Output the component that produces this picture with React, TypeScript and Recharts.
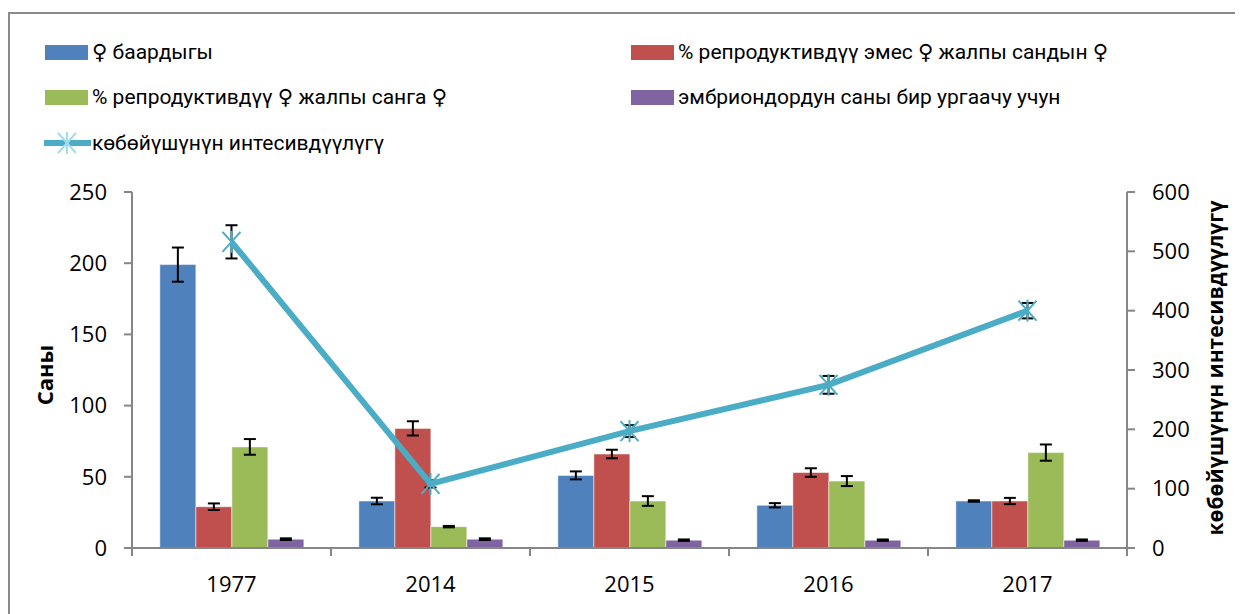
import React from 'react';
import { ComposedChart, Bar, Line, XAxis, YAxis, ErrorBar } from 'recharts';

const categories = ['1977', '2014', '2015', '2016', '2017'];
const femalesTotal = [199, 33, 51, 30, 33];
const femalesTotalErr = [12, 2.3, 2.8, 1.5, 0.5];
const nonReproPct = [29, 84, 66, 53, 33];
const nonReproPctErr = [2.3, 5, 3, 3, 2.2];
const reproPct = [71, 15, 33, 47, 67];
const reproPctErr = [5.5, 0.5, 3.4, 3.5, 5.7];
const embryosPerFemale = [6.2, 6.2, 5.5, 5.5, 5.5];
const embryosPerFemaleErr = [0.6, 0.6, 0.5, 0.5, 0.5];
const intensity = [516, 108, 197, 275, 400];
const intensityErr = [28, 6, 10, 15, 13];

const leftTicks = [0, 50, 100, 150, 200, 250];
const rightTicks = [0, 100, 200, 300, 400, 500, 600];

const seriesNames = {
  total: '♀ баардыгы',
  nonRepro: '% репродуктивдүү эмес ♀ жалпы сандын ♀',
  repro: '% репродуктивдүү ♀ жалпы санга ♀',
  embryos: 'эмбриондордун саны бир ургаачу учун',
  intensity: 'көбөйүшүнүн интесивдүүлүгү',
};
const leftAxisTitle = 'Саны';
const rightAxisTitle = 'көбөйүшүнүн интесивдүүлүгү';

const COLORS = {
  total: '#4F81BD',
  nonRepro: '#C0504D',
  repro: '#9BBB59',
  embryos: '#8064A2',
  intensity: '#4BACC6',
};

const data = categories.map((c, i) => ({
  year: c,
  total: femalesTotal[i],
  totalErr: femalesTotalErr[i],
  nonRepro: nonReproPct[i],
  nonReproErr: nonReproPctErr[i],
  repro: reproPct[i],
  reproErr: reproPctErr[i],
  embryos: embryosPerFemale[i],
  embryosErr: embryosPerFemaleErr[i],
  intensity: intensity[i],
  intensityErr: intensityErr[i],
}));

const FONT = '"Open Sans", "DejaVu Sans", sans-serif';
const LEGEND_FONT = 'Roboto, "DejaVu Sans", sans-serif';
const AXIS_COLOR = '#868686';

const Star = (props: any) => {
  const { cx, cy, color } = props;
  if (cx == null || cy == null) return null;
  const c = color || COLORS.intensity;
  return (
    <g>
      <line x1={cx - 9} y1={cy - 10} x2={cx + 9} y2={cy + 10} stroke={c} strokeWidth={2} />
      <line x1={cx - 9} y1={cy + 10} x2={cx + 9} y2={cy - 10} stroke={c} strokeWidth={2} />
      <line x1={cx} y1={cy - 11} x2={cx} y2={cy + 11} stroke={c} strokeWidth={2} />
    </g>
  );
};

const XTick = (props: any) => {
  const { x, y, payload, index, visibleTicksCount } = props;
  const half = payload && payload.offset ? payload.offset : 99.5;
  const last = index === (visibleTicksCount ?? categories.length) - 1;
  return (
    <g>
      <line x1={x - half} y1={y} x2={x - half} y2={y + 8} stroke={AXIS_COLOR} strokeWidth={2} />
      {last && <line x1={x + half} y1={y} x2={x + half} y2={y + 8} stroke={AXIS_COLOR} strokeWidth={2} />}
      <text x={x} y={y + 35} textAnchor="middle" dominantBaseline="central" fill="#000" fontSize={22} fontFamily={FONT}>
        {payload.value}
      </text>
    </g>
  );
};

const LegendSwatch = ({ color, left, top, text }: any) => (
  <div style={{ position: 'absolute', left, top, display: 'flex', alignItems: 'center', height: 15 }}>
    <div style={{ width: 43, height: 15, background: color }} />
    <div style={{ marginLeft: 4, fontSize: 21, fontFamily: LEGEND_FONT, color: '#000', whiteSpace: 'nowrap', lineHeight: '15px' }}>{text}</div>
  </div>
);

export default function App() {
  return (
    <div style={{ position: 'relative', width: 1235, height: 606, overflow: 'hidden', fontFamily: FONT }}>
      <div
        style={{
          position: 'absolute',
          left: 0,
          top: 4,
          width: 1300,
          height: 700,
          borderLeft: '2px solid #8a8a8a',
          borderTop: '2px solid #8a8a8a',
        }}
      />
      <LegendSwatch color={COLORS.total} left={37} top={37} text={seriesNames.total} />
      <LegendSwatch color={COLORS.nonRepro} left={623} top={37} text={seriesNames.nonRepro} />
      <LegendSwatch color={COLORS.repro} left={37} top={82} text={seriesNames.repro} />
      <LegendSwatch color={COLORS.embryos} left={623} top={82} text={seriesNames.embryos} />
      <div style={{ position: 'absolute', left: 36, top: 125, display: 'flex', alignItems: 'center', height: 20 }}>
        <svg width={47} height={22}>
          <line x1={1} y1={11} x2={46} y2={11} stroke={COLORS.intensity} strokeWidth={6} strokeLinecap="round" />
          <Star cx={23} cy={11} color="#9fdcec" />
        </svg>
        <div style={{ marginLeft: 1, fontSize: 21, fontFamily: LEGEND_FONT, color: '#000', whiteSpace: 'nowrap' }}>{seriesNames.intensity}</div>
      </div>
      <div style={{ position: 'absolute', left: 0, top: 0 }}>
        <ComposedChart
          width={1235}
          height={606}
          data={data}
          margin={{ top: 184, right: 0, bottom: 26, left: 0 }}
          barCategoryGap="14%"
          barGap={0}
        >
          <XAxis
            dataKey="year"
            height={40}
            axisLine={{ stroke: AXIS_COLOR, strokeWidth: 2 }}
            tickLine={false}
            tickSize={0}
            tickMargin={0}
            tick={<XTick />}
            interval={0}
          />
          <YAxis
            yAxisId="left"
            orientation="left"
            width={124}
            domain={[0, 250]}
            ticks={leftTicks}
            interval={0}
            axisLine={{ stroke: AXIS_COLOR, strokeWidth: 2 }}
            tickLine={{ stroke: AXIS_COLOR, strokeWidth: 2 }}
            tickSize={8}
            tickMargin={17}
            tick={{ fill: '#000', fontSize: 22, fontFamily: FONT }}
            label={{
              content: (p: any) => {
                const vb = p.viewBox;
                const x = vb.x + 36;
                const y = vb.y + vb.height / 2 + 5;
                return (
                  <text x={x} y={y} transform={`rotate(-90, ${x}, ${y})`} textAnchor="middle" dominantBaseline="central" fontWeight="bold" fontSize={22} fontFamily={FONT} fill="#000">
                    {leftAxisTitle}
                  </text>
                );
              },
            }}
          />
          <YAxis
            yAxisId="right"
            orientation="right"
            width={116}
            domain={[0, 600]}
            ticks={rightTicks}
            interval={0}
            axisLine={{ stroke: AXIS_COLOR, strokeWidth: 2 }}
            tickLine={{ stroke: AXIS_COLOR, strokeWidth: 2 }}
            tickSize={8}
            tickMargin={17}
            tick={{ fill: '#000', fontSize: 22, fontFamily: FONT }}
            label={{
              content: (p: any) => {
                const vb = p.viewBox;
                const x = vb.x + 88;
                const y = vb.y + vb.height / 2 - 2;
                return (
                  <text x={x} y={y} transform={`rotate(-90, ${x}, ${y})`} textAnchor="middle" dominantBaseline="central" fontWeight="bold" fontSize={21} fontFamily={FONT} fill="#000">
                    {rightAxisTitle}
                  </text>
                );
              },
            }}
          />
          <Bar yAxisId="left" dataKey="total" name={seriesNames.total} fill={COLORS.total} stroke="rgba(255,255,255,0.5)" strokeWidth={1} isAnimationActive={false}>
            <ErrorBar dataKey="totalErr" width={6} strokeWidth={2} stroke="#000" direction="y" />
          </Bar>
          <Bar yAxisId="left" dataKey="nonRepro" name={seriesNames.nonRepro} fill={COLORS.nonRepro} stroke="rgba(255,255,255,0.5)" strokeWidth={1} isAnimationActive={false}>
            <ErrorBar dataKey="nonReproErr" width={6} strokeWidth={2} stroke="#000" direction="y" />
          </Bar>
          <Bar yAxisId="left" dataKey="repro" name={seriesNames.repro} fill={COLORS.repro} stroke="rgba(255,255,255,0.5)" strokeWidth={1} isAnimationActive={false}>
            <ErrorBar dataKey="reproErr" width={6} strokeWidth={2} stroke="#000" direction="y" />
          </Bar>
          <Bar yAxisId="left" dataKey="embryos" name={seriesNames.embryos} fill={COLORS.embryos} stroke="rgba(255,255,255,0.5)" strokeWidth={1} isAnimationActive={false}>
            <ErrorBar dataKey="embryosErr" width={6} strokeWidth={2} stroke="#000" direction="y" />
          </Bar>
          <Line
            yAxisId="right"
            type="linear"
            dataKey="intensity"
            name={seriesNames.intensity}
            stroke={COLORS.intensity}
            strokeWidth={6}
            dot={<Star />}
            activeDot={false}
            isAnimationActive={false}
          >
            <ErrorBar dataKey="intensityErr" width={6} strokeWidth={2} stroke="#000" direction="y" />
          </Line>
        </ComposedChart>
      </div>
    </div>
  );
}
